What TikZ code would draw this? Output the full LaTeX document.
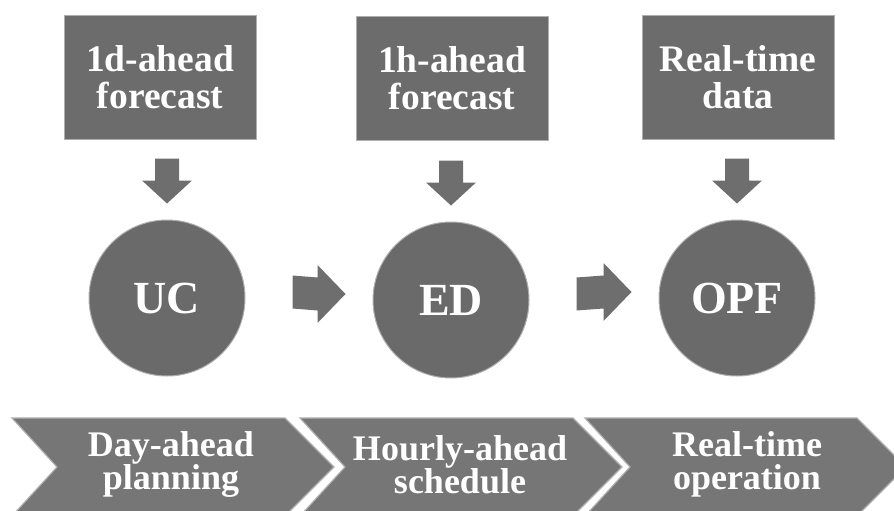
\documentclass[tikz,border=0pt]{standalone}
\usepackage{fontspec}
\setmainfont{Liberation Serif}
\usetikzlibrary{calc}
\definecolor{boxgray}{RGB}{108,108,108}
\definecolor{circgray}{RGB}{106,106,106}
\definecolor{chevgray}{RGB}{118,118,118}
\definecolor{arrgray}{RGB}{110,110,110}
\definecolor{rimgray}{RGB}{175,175,175}
\tikzset{
  inbox/.style={fill=boxgray, draw=rimgray, line width=1pt, minimum width=192pt, minimum height=123pt,
    align=center, text=white, font=\fontsize{37.5}{37}\selectfont\bfseries, inner sep=0pt},
  stage/.style={circle, fill=circgray, draw=rimgray, line width=1pt, minimum size=156pt, inner sep=0pt,
    text=white, font=\fontsize{46}{46}\selectfont\bfseries},
  phase/.style={align=center, text=white, font=\fontsize{36}{33.5}\selectfont\bfseries, inner sep=0pt},
  chev/.style={fill=chevgray, draw=rimgray, line width=1.2pt},
  blockarrow/.style={fill=arrgray},
}
\begin{document}
\begin{tikzpicture}[x=1pt,y=-1pt]
\useasboundingbox (0,0) rectangle (894,511);
\clip (0,0) rectangle (894,511);
% input boxes
\node[inbox] (b1) at (160,77.5) {1d-ahead\\forecast};
\node[inbox] (b2) at (452,78.5) {1h-ahead\\forecast};
\node[inbox] (b3) at (738,77.5) {Real-time\\data};
% stages
\node[stage] (c1) at (167,298) {UC};
\node[stage] (c2) at (451,300) {ED};
\node[stage] (c3) at (737,298) {OPF};
% down arrows
\foreach \c in {c1,c2,c3}{
  \fill[blockarrow] ($(\c.north)+(-12,-61)$) -- ($(\c.north)+(12,-61)$) -- ($(\c.north)+(12,-39)$)
    -- ($(\c.north)+(25,-39)$) -- ($(\c.north)+(0,-16)$) -- ($(\c.north)+(-25,-39)$)
    -- ($(\c.north)+(-12,-39)$) -- cycle;
}
% right arrows
\foreach \a/\b in {c1/c2,c2/c3}{
  \coordinate (t) at ($(\a.east)+(47,-6)$);
  \coordinate (h) at ($(\b.west)+(-27,-6)$);
  \fill[blockarrow] ($(t)+(0,-16.5)$) -- ($(h)+(-28,-16.5)$) -- ($(h)+(-28,-29)$) -- (h)
    -- ($(h)+(-28,29)$) -- ($(h)+(-28,16.5)$) -- ($(t)+(0,16.5)$) -- cycle;
}
% chevrons
\foreach \x/\y [count=\i] in {12/285,300/573,585/857}{
  \draw[chev] (\x,418) -- (\y,418) -- (\y+49,467) -- (\y,516) -- (\x,516) -- (\x+45,467) -- cycle;
}
\node[phase] (p1) at (171,464.5) {Day-ahead\\planning};
\node[phase] (p2) at (460,464.5) {Hourly-ahead\\schedule};
\node[phase] (p3) at (747,464.5) {Real-time\\operation};
\end{tikzpicture}
\end{document}
